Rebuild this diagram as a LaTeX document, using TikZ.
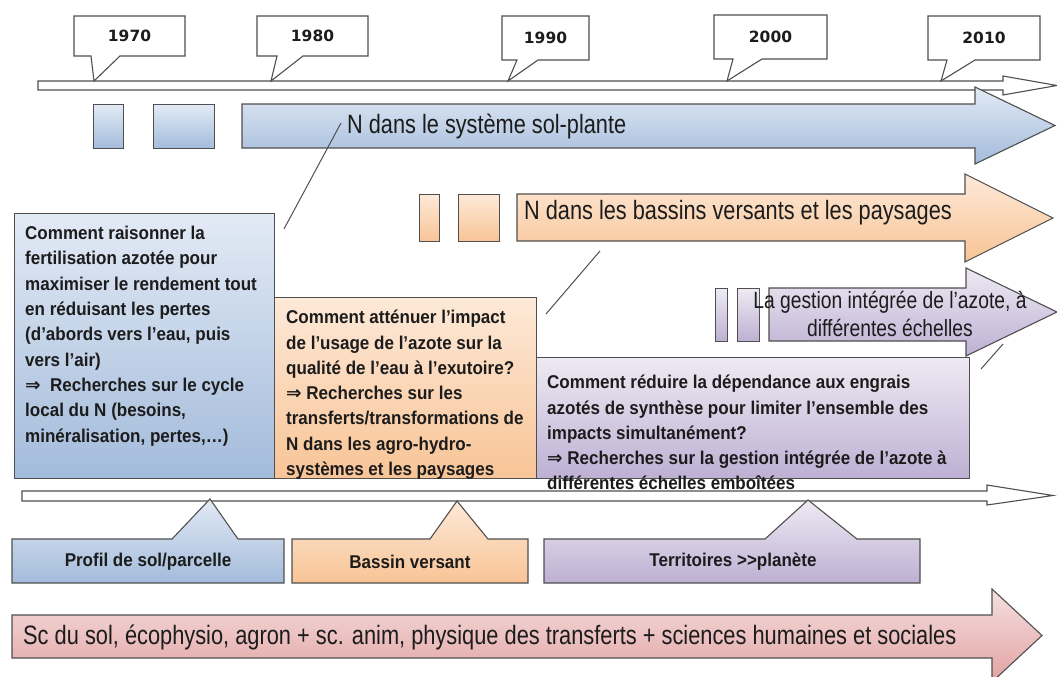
\documentclass[tikz,border=0pt]{standalone}
\usepackage{fontspec}
\setmainfont{Liberation Sans}
\newfontfamily\narrowfont[FakeStretch=0.82]{Liberation Sans}
\newfontfamily\boxfont[FakeStretch=0.92]{Liberation Sans}
\newfontfamily\symfont{DejaVu Sans}
\newfontfamily\yearfont{DejaVu Sans}
\newcommand\implies{{\symfont\bfseries ⇒}}
\definecolor{edgegray}{HTML}{4F4F4F}
\definecolor{textdark}{HTML}{1C1C1C}
\definecolor{bluetop}{HTML}{E2EAF5}
\definecolor{bluebot}{HTML}{A3BBDB}
\definecolor{orangetop}{HTML}{FDE9D8}
\definecolor{orangebot}{HTML}{F8C496}
\definecolor{purpletop}{HTML}{EEEAF3}
\definecolor{purplebot}{HTML}{BDB0D3}
\definecolor{pinktop}{HTML}{F6E0E0}
\definecolor{pinkbot}{HTML}{E2A2A2}
\begin{document}
\begin{tikzpicture}[x=1pt,y=-1pt,
  frame/.style={draw=edgegray, line width=1.1pt, line join=miter},
  bluefill/.style={top color=bluetop, bottom color=bluebot},
  orangefill/.style={top color=orangetop, bottom color=orangebot},
  purplefill/.style={top color=purpletop, bottom color=purplebot},
  pinkfill/.style={top color=pinktop, bottom color=pinkbot},
  plainbox/.style={frame, inner sep=0pt, anchor=north west},
  boxtext/.style={inner sep=0pt, anchor=north west, align=left, text=textdark,
     font=\boxfont\bfseries\fontsize{18.5}{25.3}\selectfont},
  labeltext/.style={inner sep=0pt, text=textdark, font=\boxfont\bfseries\fontsize{18.5}{22}\selectfont},
  arrowtext/.style={inner sep=0pt, text=textdark, font=\narrowfont\fontsize{26.5}{30}\selectfont},
  yeartext/.style={inner sep=0pt, text=textdark, font=\yearfont\bfseries\fontsize{15.5}{18}\selectfont},
  thinline/.style={draw=edgegray, line width=1pt}
]
\useasboundingbox (0,0) rectangle (1057,677);

% ---------- top time line ----------
\path[frame, fill=white] (38,81) -- (1003,81) -- (1003,76) -- (1057,85.5) -- (1003,95) -- (1003,90) -- (38,90) -- cycle;

% year callouts
\foreach \xa/\xb/\ya/\yb/\pl/\pr/\tx/\lab in {
  74/185/16/56/91/120/94/1970,
  257/368/16/56/277/303/271/1980,
  502/589/16/60/517/538/508/1990,
  714/827/15/59/733/762/727/2000,
  928/1040/16/60/947/975/941/2010}{
  \path[frame, fill=white] (\xa,\ya) -- (\xb,\ya) -- (\xb,\yb) -- (\pr,\yb) -- (\tx,81) -- (\pl,\yb) -- (\xa,\yb) -- cycle;
  \node[yeartext] (y\lab) at ({(\xa+\xb)/2},{(\ya+\yb)/2}) {\lab};
}

% ---------- blue row ----------
\node[plainbox, bluefill, minimum width=30, minimum height=44] (bs1) at (93,104) {};
\node[plainbox, bluefill, minimum width=61, minimum height=44] (bs2) at (153,104) {};
\path[frame, bluefill] (242,104) -- (975,104) -- (975,87) -- (1055,125.5) -- (975,164) -- (975,148) -- (242,148) -- cycle;
\node[arrowtext, anchor=west] (bluearrow) at (347,126) {N dans le système sol-plante};

% ---------- orange row ----------
\node[plainbox, orangefill, minimum width=20, minimum height=47] (os1) at (419,194) {};
\node[plainbox, orangefill, minimum width=41, minimum height=47] (os2) at (458,194) {};
\path[frame, orangefill] (517,194) -- (965,194) -- (965,174) -- (1053,218) -- (965,262) -- (965,241) -- (517,241) -- cycle;
\node[arrowtext, anchor=west] (orangearrow) at (524,213) {N dans les bassins versants et les paysages};

% ---------- purple row ----------
\node[plainbox, purplefill, minimum width=12, minimum height=53] (ps1) at (715,288) {};
\node[plainbox, purplefill, minimum width=22, minimum height=53] (ps2) at (737,288) {};
\path[frame, purplefill] (769,288) -- (966,288) -- (966,268) -- (1057,312) -- (966,356) -- (966,341) -- (769,341) -- cycle;
\node[inner sep=0pt, text=textdark, align=center, font=\narrowfont\fontsize{23.5}{28}\selectfont] (purplearrow) at (890,314)
  {La gestion intégrée de l’azote, à\\différentes échelles};

% ---------- question boxes ----------
\node[plainbox, bluefill, minimum width=260, minimum height=265] (bluebox) at (14,213) {};
\node[plainbox, orangefill, minimum width=262, minimum height=181] (orangebox) at (274,297) {};
\node[plainbox, purplefill, minimum width=433, minimum height=121] (purplebox) at (536,357) {};

\node[boxtext] (bluetext) at (25,226) {Comment raisonner la\\
fertilisation azotée pour\\
maximiser le rendement tout\\
en réduisant les pertes\\
(d’abords vers l’eau, puis\\
vers l’air)\\
\implies\ \ Recherches sur le cycle\\
local du N (besoins,\\
minéralisation, pertes,…)};

\node[boxtext] (orangetext) at (286,310) {Comment atténuer l’impact\\
de l’usage de l’azote sur la\\
qualité de l’eau à l’exutoire?\\
\implies\ Recherches sur les\\
transferts/transformations de\\
N dans les agro-hydro-\\
systèmes et les paysages};

\node[boxtext] (purpletext) at (547,375) {Comment réduire la dépendance aux engrais\\
azotés de synthèse pour limiter l’ensemble des\\
impacts simultanément?\\
\implies\ Recherches sur la gestion intégrée de l’azote à\\
différentes échelles emboîtées};

% connector lines
\coordinate (bl1) at (341,123); \coordinate (bl2) at (284,229);
\coordinate (ol1) at (600,251); \coordinate (ol2) at (546,314);
\coordinate (pl1) at (1003,344); \coordinate (pl2) at (981,369);
\draw[thinline] (bl1) -- (bl2);
\draw[thinline] (ol1) -- (ol2);
\draw[thinline] (pl1) -- (pl2);

% ---------- lower time line ----------
\path[frame, fill=white] (22,491) -- (987,491) -- (987,485) -- (1053,495.5) -- (987,505) -- (987,501) -- (22,501) -- cycle;

% scale callouts
\path[frame, bluefill] (12,539) -- (172,539) -- (210,499) -- (238,539) -- (284,539) -- (284,583) -- (12,583) -- cycle;
\node[labeltext] (profil) at (148,562) {Profil de sol/parcelle};
\path[frame, orangefill] (292,539) -- (430,539) -- (457,501) -- (488,539) -- (528,539) -- (528,583) -- (292,583) -- cycle;
\node[labeltext] (bassin) at (410,562) {Bassin versant};
\path[frame, purplefill] (544,539) -- (765,539) -- (808,500) -- (857,539) -- (920,539) -- (920,583) -- (544,583) -- cycle;
\node[labeltext] (territoires) at (733,562) {Territoires >>planète};

% ---------- bottom discipline arrow ----------
\path[frame, pinkfill] (12,615) -- (992,615) -- (992,589) -- (1042,635.5) -- (992,682) -- (992,658) -- (12,658) -- cycle;
\node[arrowtext, anchor=west, font=\narrowfont\fontsize{26.6}{30}\selectfont] (disciplines) at (23,637)
  {Sc du sol, écophysio, agron + sc. anim, physique des transferts + sciences humaines et sociales};
\end{tikzpicture}
\end{document}
